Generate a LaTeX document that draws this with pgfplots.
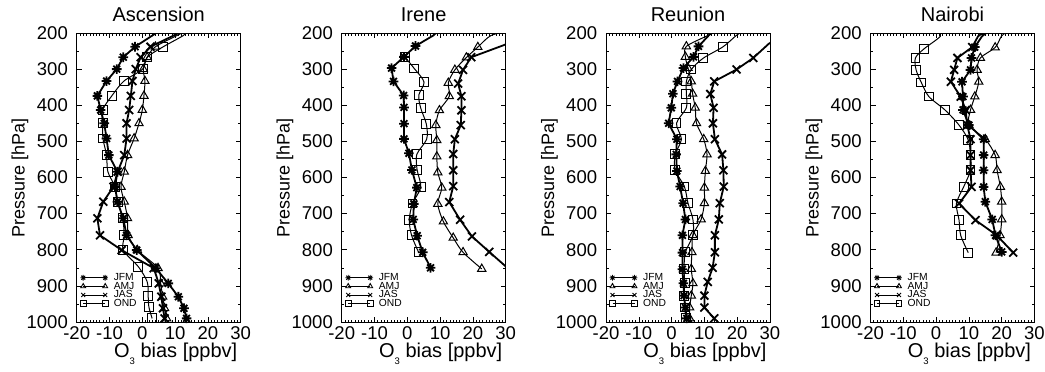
\documentclass[border=0pt]{standalone}
\usepackage{fontspec}
\setmainfont{Liberation Sans}
\usepackage{pgfplots}
\pgfplotsset{compat=1.18}

\pgfdeclareplotmark{ast8}{%
  \pgfpathmoveto{\pgfqpoint{-\pgfplotmarksize}{0pt}}%
  \pgfpathlineto{\pgfqpoint{\pgfplotmarksize}{0pt}}%
  \pgfpathmoveto{\pgfqpoint{0pt}{-\pgfplotmarksize}}%
  \pgfpathlineto{\pgfqpoint{0pt}{\pgfplotmarksize}}%
  \pgfpathmoveto{\pgfqpoint{-0.707\pgfplotmarksize}{-0.707\pgfplotmarksize}}%
  \pgfpathlineto{\pgfqpoint{0.707\pgfplotmarksize}{0.707\pgfplotmarksize}}%
  \pgfpathmoveto{\pgfqpoint{-0.707\pgfplotmarksize}{0.707\pgfplotmarksize}}%
  \pgfpathlineto{\pgfqpoint{0.707\pgfplotmarksize}{-0.707\pgfplotmarksize}}%
  \pgfusepathqstroke}

\pgfplotsset{
  panel/.style={
    scale only axis, width=164pt, height=289pt,
    xmin=-20, xmax=30, ymin=200, ymax=1000, y dir=reverse,
    xtick={-20,-10,0,10,20,30}, xticklabels={-20,-10,0,10,20,30},
    ytick={200,300,400,500,600,700,800,900,1000},
    yticklabels={200,300,400,500,600,700,800,900,1000},
    minor x tick num=9, minor y tick num=1,
    tick align=inside, xtick pos=both, ytick pos=both,
    major tick length=5pt, minor tick length=2.5pt,
    every tick/.style={black, line width=0.6pt},
    axis line style={black, line width=0.8pt},
    tick label style={font=\fontsize{18.5}{18.5}\selectfont},
    xticklabel style={inner sep=0pt, yshift=-4pt},
    yticklabel style={inner sep=0pt, xshift=-8.7pt},
    every axis title/.style={at={(0.5,1)}, anchor=base, yshift=11.3pt, font=\fontsize{20}{20}\selectfont},
    every axis x label/.style={at={(axis description cs:0.5,0)}, anchor=base, yshift=-35.3pt, xshift=17pt, font=\fontsize{20}{20}\selectfont},
    every axis y label/.style={at={(axis description cs:-0.317,0.5)}, rotate=90, anchor=base, font=\fontsize{18}{18}\selectfont},
    xlabel={O\raisebox{-7.5pt}{\fontsize{9.5}{9.5}\selectfont 3} bias [ppbv]},
    ylabel={Pressure [hPa]},
    legend image code/.code={\draw[#1, mark repeat=1, mark phase=1, line width=0.9pt, mark size=2.8pt] plot coordinates {(0pt,0pt) (22pt,0pt)};},
    legend style={draw=none, fill=none, at={(0,0)}, anchor=south west, xshift=3.5pt, yshift=13pt,
      font=\fontsize{10.3}{10.3}\selectfont, inner sep=0pt, row sep=-1.6pt,
      nodes={inner sep=0.8pt},
      /tikz/every even column/.append style={column sep=0pt},
      /tikz/every odd column/.append style={column sep=5pt}},
    legend cell align=left,
  },
  jfm/.style={black, line width=1.8pt, mark=ast8, mark size=4.8pt},
  amj/.style={black, line width=1pt, mark=triangle, mark size=4.8pt, smooth},
  jas/.style={black, line width=1.8pt, mark=x, mark size=5.6pt},
  ond/.style={black, line width=1pt, mark=square, mark size=4.4pt, smooth},
}

\begin{document}
\begin{tikzpicture}
\path[use as bounding box] (0pt,0pt) rectangle (1045pt,372pt);

% ---------------- Ascension
\begin{axis}[panel, at={(76.7pt,50pt)}, anchor=south west, title={Ascension}]
\addplot[jfm, mark phase=2] coordinates {(5,190) (3.4,205) (-2.2,238) (-5.8,267) (-7.8,300) (-10.9,333) (-13.7,374) (-12.7,413) (-11.6,450) (-10.9,492) (-10.2,538) (-7.6,584) (-8.3,626) (-7.6,667) (-5.8,713) (-4.8,760) (-1.7,801) (4.1,851) (7.9,893) (11,930) (12.7,962) (13.5,990)};
\addlegendentry{JFM}
\addplot[amj, mark phase=2] coordinates {(14,190) (11,205) (4,238) (1.5,267) (0.3,300) (0.8,333) (0.5,374) (0,413) (-1,450) (-2.5,492) (-4.5,538) (-5.5,584) (-6.5,626) (-5.5,667) (-4.5,713) (-4.3,760) (-1.5,801) (4.8,851) (5.6,893) (6.2,930) (6.8,962) (7.4,990)};
\addlegendentry{AMJ}
\addplot[jas, mark phase=2] coordinates {(13,190) (10,205) (2.5,238) (-0.5,267) (-2,300) (-3,333) (-3.5,374) (-4,413) (-4.8,450) (-4.8,492) (-5.5,538) (-7.5,584) (-8.8,626) (-11.9,667) (-13.7,713) (-12.9,760) (-6.3,801) (3.5,851) (5,893) (5.8,930) (6.3,962) (6.8,990)};
\addlegendentry{JAS}
\addplot[ond, mark phase=2] coordinates {(13.5,195) (12.5,207) (6.4,238) (1.5,267) (0.1,300) (-5.6,333) (-9.3,374) (-12.1,413) (-12.1,450) (-12,492) (-10.9,538) (-10.5,584) (-8.3,626) (-7.5,667) (-6,713) (-5.5,760) (-5.8,801) (-1.2,847) (1.5,889) (1.8,929) (2,958) (3,990)};
\addlegendentry{OND}
\end{axis}

% ---------------- Irene
\begin{axis}[panel, at={(341.7pt,50pt)}, anchor=south west, title={Irene}]
\addplot[jfm, mark phase=2] coordinates {(10,190) (7.9,207) (2.5,236) (-1,266) (-4.8,297) (-4.2,334) (-1.1,373) (-1,406) (-1,451) (-1,493) (0.5,533) (1.4,579) (2.9,628) (2,673) (1.8,716) (3,761) (4.7,807) (7.1,850)};
\addlegendentry{JFM}
\addplot[amj, mark phase=2] coordinates {(31,195) (25.5,207) (21.5,239) (18,268) (14.5,302) (12.5,338) (12.8,375) (9.8,414) (8.7,455) (9,497) (9,542) (9.3,586) (10.5,628) (9.3,673) (11,722) (14,767) (17,807) (22.7,853)};
\addlegendentry{AMJ}
\addplot[jas, mark phase=2] coordinates {(37,205) (29.3,234) (19.5,267) (17,302) (15.5,340) (16.5,375) (16.5,414) (16.3,455) (14.5,494) (14,535) (14,580) (14,624) (12.8,668) (16.1,717) (19.7,763) (25,806) (30.5,850)};
\addlegendentry{JAS}
\addplot[ond] coordinates {(-0.8,266) (2.1,298) (5.1,336) (3.5,372) (4.1,408) (5.8,452) (5.9,494) (2.9,536) (3,579) (4.1,627) (1.6,672) (0.6,717) (1.3,760) (3.4,806)};
\addlegendentry{OND}
\end{axis}

% ---------------- Reunion
\begin{axis}[panel, at={(606pt,50pt)}, anchor=south west, title={Reunion}]
\addplot[jfm, mark phase=2] coordinates {(13,192) (11.3,207) (8.2,237) (6.7,266) (3.6,297) (1.8,334) (0.4,368) (-0.1,407) (-0.9,450) (1.6,494) (1.4,536) (1.6,582) (2.6,625) (3.5,671) (4.2,716) (3.3,760) (3.3,808) (3.3,854) (3.6,893) (3.8,927) (4.2,960) (4.6,990)};
\addlegendentry{JFM}
\addplot[amj, mark phase=2] coordinates {(13,195) (11,207) (4.5,237) (4.2,266) (5,297) (6,334) (6.4,368) (7.2,407) (7.6,450) (9.8,494) (10.8,536) (10.3,582) (10,628) (10,671) (9,716) (6.5,760) (6.2,807) (6,853) (6.5,893) (6,927) (5.5,960) (5.5,990)};
\addlegendentry{AMJ}
\addplot[jas, mark phase=2] coordinates {(34,205) (29.6,230) (24.9,269) (19.8,301) (13,334) (11.8,369) (12.8,407) (12.6,450) (13.2,494) (15.4,536) (15.8,580) (15.9,625) (14.7,671) (14.4,716) (13.2,760) (13.2,807) (12.5,850) (11,889) (10,927) (10,960) (13,990)};
\addlegendentry{JAS}
\addplot[ond, mark phase=2] coordinates {(21.5,197) (19.7,207) (15.7,238) (9.6,270) (6,301) (4.5,334) (4.5,368) (4.5,407) (1.5,450) (3,494) (1.1,536) (1.1,580) (3.9,625) (5,671) (6.5,716) (6.5,760) (4.2,807) (3.8,853) (4,893) (3.8,927) (4,960) (4.5,990)};
\addlegendentry{OND}
\end{axis}

% ---------------- Nairobi
\begin{axis}[panel, at={(870.5pt,50pt)}, anchor=south west, title={Nairobi}]
\addplot[jfm, mark phase=2] coordinates {(16,195) (14,209) (11.8,239) (10.8,269) (10.5,302) (7.9,335) (8.2,376) (8.2,413) (10,455) (14.5,494) (14.5,538) (14.5,580) (14.5,626) (15,667) (17.1,716) (18.1,760) (20,806)};
\addlegendentry{JFM}
\addplot[amj, mark phase=2] coordinates {(21.5,197) (19.9,209) (18,240) (13.5,269) (12.5,302) (13,335) (11.8,376) (10.5,413) (10,455) (15,494) (18,538) (18.6,580) (19.6,626) (20,667) (20,716) (19.5,760) (18.3,808)};
\addlegendentry{AMJ}
\addplot[jas, mark phase=2] coordinates {(14.5,198) (12.8,209) (11,239) (6.5,269) (5.5,302) (4.5,335) (7.5,376) (9,413) (9.5,455) (10.5,494) (10.5,538) (10.5,580) (10.8,626) (7,672) (12,718) (18.5,760) (23.5,808)};
\addlegendentry{JAS}
\addplot[ond, mark phase=2] coordinates {(0,196) (1.3,209) (-3.7,244) (-6.3,269) (-6.1,302) (-4.5,337) (-2.2,376) (2.7,413) (7,455) (9.8,496) (10.5,538) (10.5,580) (8.4,626) (6.2,672) (7,718) (7.5,760) (9.8,808)};
\addlegendentry{OND}
\end{axis}
\end{tikzpicture}
\end{document}
